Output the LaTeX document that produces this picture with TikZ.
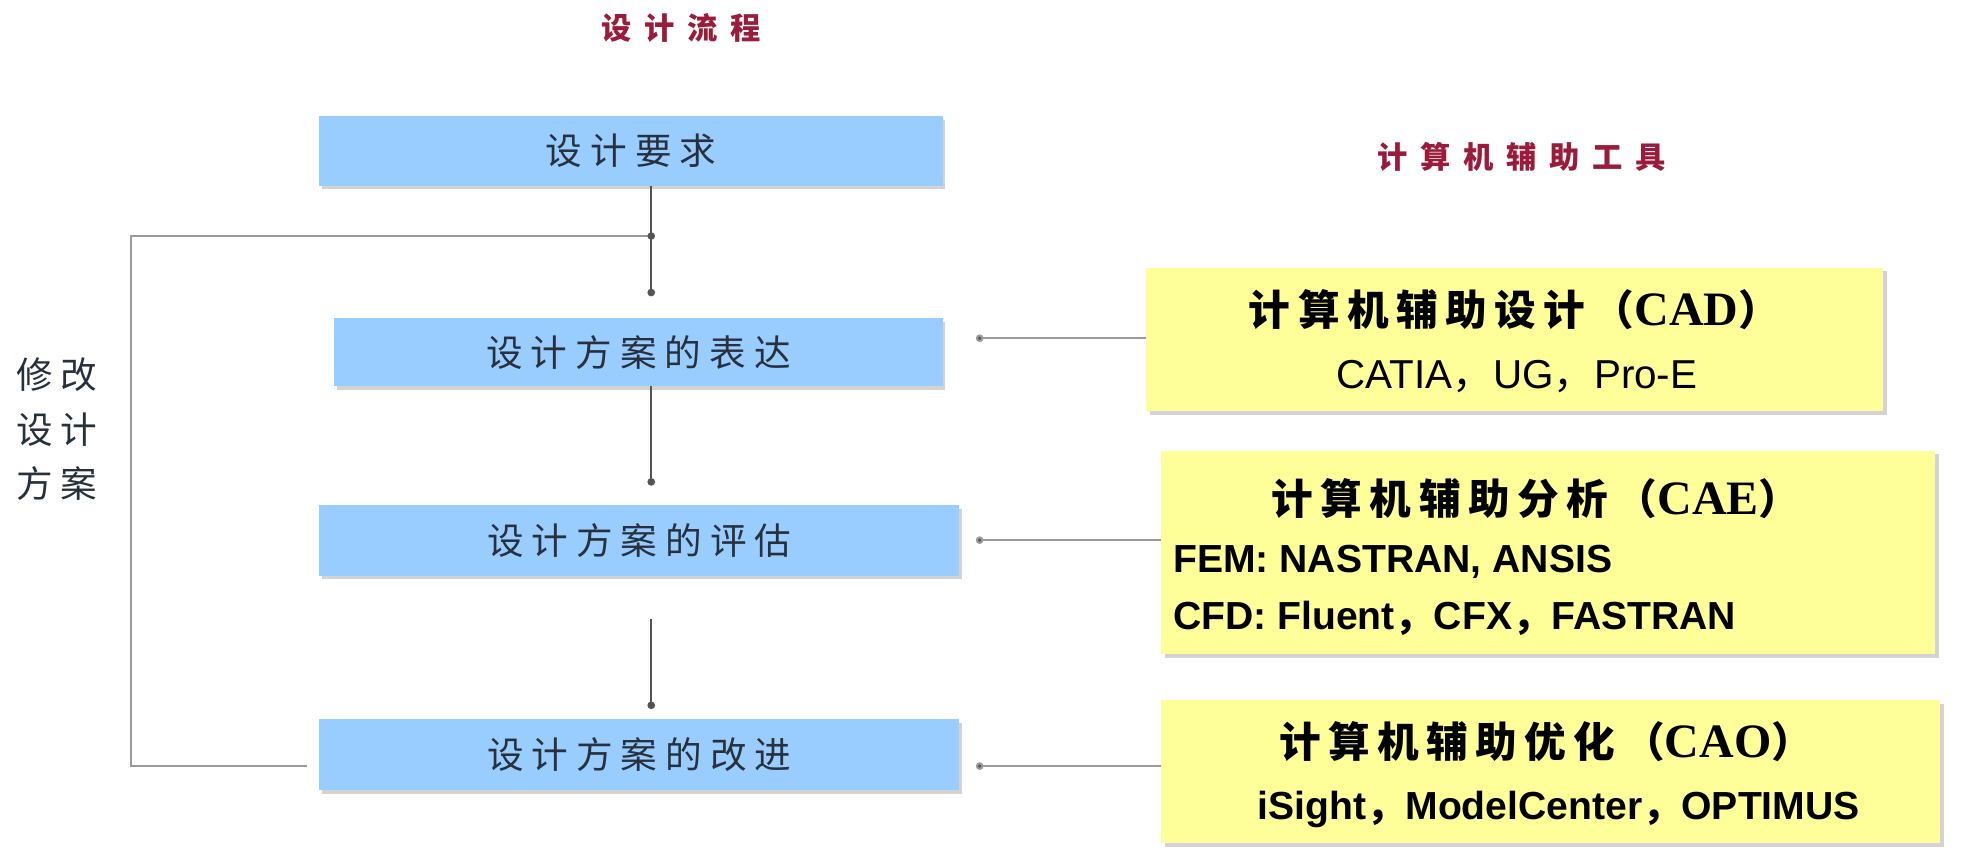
\documentclass[tikz,border=0pt]{standalone}
\usepackage{fontspec}
\setmainfont{Liberation Sans}
\newfontfamily\cjk{Noto Sans CJK SC}
\newfontfamily\cjkbox[LetterSpace=22]{Noto Sans CJK SC}
\newfontfamily\cjktitle[LetterSpace=42]{Noto Sans CJK SC}
\newfontfamily\cjkhead[LetterSpace=18]{Noto Sans CJK SC}
\newfontfamily\cjkleft[LetterSpace=22]{Noto Sans CJK SC}
\newfontfamily\tnr{Liberation Serif}
\usetikzlibrary{shadows,arrows.meta}
\definecolor{boxblue}{HTML}{99CCFF}
\definecolor{boxyellow}{HTML}{FFFF99}
\definecolor{titlered}{HTML}{9B1B3B}
\definecolor{linegray}{HTML}{9A9A9A}
\definecolor{darkline}{HTML}{555555}
\definecolor{bluetext}{HTML}{27313D}
\tikzset{
  flowbox/.style={rectangle, fill=boxblue, draw=none, inner sep=0pt,
    drop shadow={shadow xshift=2pt, shadow yshift=-3pt, opacity=0.35, fill=gray},
    text=bluetext, font=\cjkbox\fontsize{29}{31}\selectfont},
  toolbox/.style={rectangle, fill=boxyellow, draw=none, inner sep=0pt,
    drop shadow={shadow xshift=3pt, shadow yshift=-3pt, opacity=0.35, fill=gray}},
  titletext/.style={text=titlered, font=\cjktitle\bfseries\fontsize{24}{26}\selectfont},
  headtext/.style={anchor=center, font=\cjkhead\bfseries\fontsize{33}{35}\selectfont},
  flowarrow/.style={draw=darkline, line width=1.6pt, -{Circle[length=6pt]}},
  toolarrow/.style={draw=linegray, line width=1.6pt, -{Circle[length=6pt,fill=darkline]}},
  loopline/.style={draw=linegray, line width=1.6pt},
}
\newcommand{\cmm}{{\cjk ，}}
\newcommand{\latinhead}[1]{{\tnr\bfseries\fontsize{38}{40}\selectfont #1}}
\begin{document}
\begin{tikzpicture}[x=1pt, y=-1pt]
\useasboundingbox (0,0) rectangle (1568,684);
% titles
\node[titletext] (t1) at (540,22) {设计流程};
\node[titletext] (t2) at (1206,124) {计算机辅助工具};
% flow boxes
\node[flowbox, minimum width=494pt, minimum height=55pt] (b1) at (500,119.5) {设计要求};
\node[flowbox, minimum width=482pt, minimum height=54pt] (b2) at (506,279) {设计方案的表达};
\node[flowbox, minimum width=507pt, minimum height=56pt] (b3) at (506.5,428) {设计方案的评估};
\node[flowbox, minimum width=507pt, minimum height=56pt] (b4) at (506.5,598) {设计方案的改进};
% tool boxes
\node[toolbox, minimum width=584pt, minimum height=114pt] (c1) at (1200,269) {};
\node[headtext] (c1h) at (1200,245) {计算机辅助设计（\latinhead{CAD}）};
\node[anchor=center, font=\fontsize{32}{34}\selectfont] (c1b) at (1202,298)
  {CATIA\cmm UG\cmm Pro-E};
\node[toolbox, minimum width=613pt, minimum height=161pt] (c2) at (1226.5,437.5) {};
\node[headtext] (c2h) at (1217,395) {计算机辅助分析（\latinhead{CAE}）};
\node[anchor=west, font=\bfseries\fontsize{31}{33}\selectfont] (c2b) at (926,445)
  {FEM: NASTRAN, ANSIS};
\node[anchor=west, font=\bfseries\fontsize{31}{33}\selectfont] (c2c) at (926,490)
  {CFD: Fluent\cmm CFX\cmm FASTRAN};
\node[toolbox, minimum width=617pt, minimum height=113pt] (c3) at (1228.5,611.5) {};
\node[headtext] (c3h) at (1225,588) {计算机辅助优化（\latinhead{CAO}）};
\node[anchor=center, font=\bfseries\fontsize{31}{33}\selectfont] (c3b) at (1235,641)
  {iSight\cmm ModelCenter\cmm OPTIMUS};
% left label
\node[align=center, text=bluetext, font=\cjkleft\fontsize{29}{43}\selectfont] (lab) at (45,340)
  {修改\\设计\\方案};
% connectors
\coordinate (j1) at (516,187);
\coordinate (lc1) at (104,187);
\coordinate (lc2) at (104,607);
\coordinate (lstart) at (243,607);
\draw[flowarrow, shorten >=17pt] (b1.south -| j1) -- (b2.north -| j1);
\draw[flowarrow, shorten >=15pt] (b2.south -| j1) -- (b3.north -| j1);
\draw[flowarrow, shorten <=34pt, shorten >=8pt] (b3.south -| j1) -- (b4.north -| j1);
\draw[loopline] (lstart) -- (lc2) -- (lc1) -- (j1);
\fill[darkline] (j1) circle (3pt);
\draw[toolarrow, shorten >=26pt] (c1.west |- 0,268) -- (b2.east |- 0,268);
\draw[toolarrow, shorten >=13pt] (c2.west |- 0,428) -- (b3.east |- 0,428);
\draw[toolarrow, shorten >=13pt] (c3.west |- 0,607) -- (b4.east |- 0,607);
\end{tikzpicture}
\end{document}
